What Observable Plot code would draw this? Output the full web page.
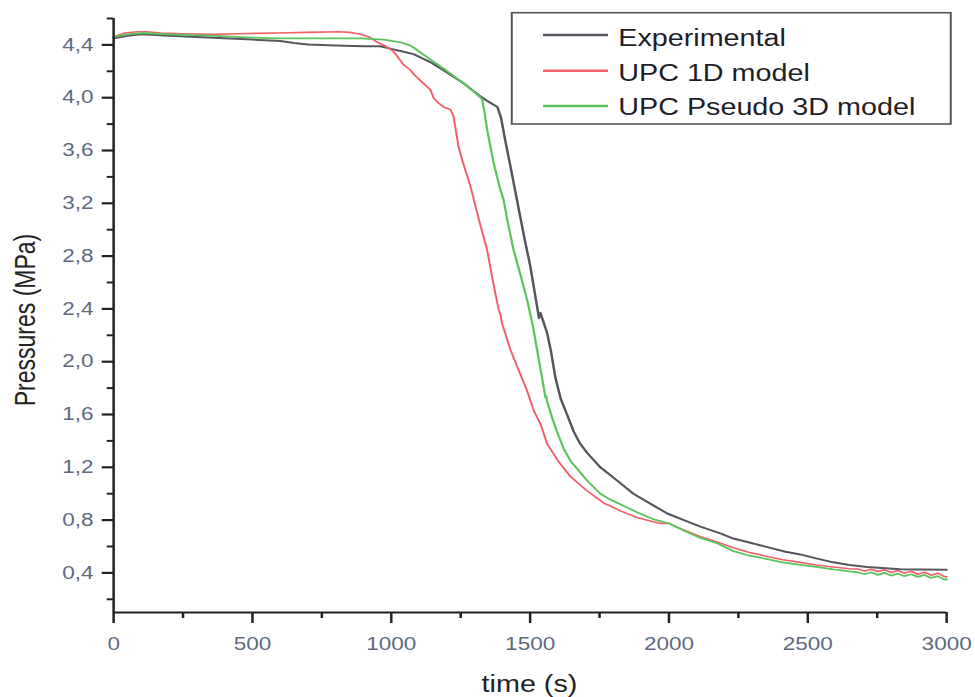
<!DOCTYPE html>
<html><head><meta charset="utf-8">
<script src="https://cdn.jsdelivr.net/npm/d3@7"></script>
<script src="https://cdn.jsdelivr.net/npm/@observablehq/plot@0.6"></script>
<style>
body{margin:0;background:#fff;}
#chart{width:975px;height:697px;overflow:hidden;}
</style></head><body><div id="chart"></div>
<script>
const seriesNames = ["Experimental", "UPC 1D model", "UPC Pseudo 3D model"];
const seriesColors = ["#55575f", "#f0606a", "#5cc45c"];

const expTime = [0,50,100,200,300,400,500,600,650,700,800,900,960,1000,1040,1080,1140,1202,1260,1321,1350,1382,1395,1410,1430,1455,1480,1500,1525,1532,1537,1545,1561,1575,1591,1610,1633,1657,1680,1705,1753,1825,1872,1945,1994,2065,2113,2185,2232,2300,2354,2420,2473,2530,2592,2650,2714,2780,2833,2900,3000];
const expPressure = [4.45,4.47,4.48,4.47,4.46,4.45,4.44,4.43,4.415,4.403,4.395,4.39,4.39,4.37,4.35,4.33,4.27,4.19,4.11,4.01,3.97,3.93,3.85,3.68,3.47,3.20,2.93,2.73,2.42,2.33,2.37,2.32,2.22,2.08,1.88,1.72,1.60,1.47,1.38,1.31,1.20,1.08,1.00,0.91,0.85,0.79,0.75,0.70,0.66,0.625,0.595,0.56,0.54,0.51,0.48,0.46,0.445,0.435,0.427,0.425,0.424];

const upc1dTime = [0,40,86,120,170,250,350,450,590,700,806,850,890,920,950,980,1008,1044,1069,1080,1110,1141,1152,1170,1188,1213,1224,1235,1242,1255,1267,1285,1297,1320,1345,1365,1386,1393,1399,1429,1460,1489,1515,1537,1561,1600,1645,1700,1765,1825,1885,1940,1969,2000,2030,2065,2113,2173,2232,2290,2354,2410,2473,2530,2592,2650,2680,2704,2728,2752,2776,2800,2824,2848,2872,2896,2920,2944,2968,2990,3000];
const upc1dPressure = [4.46,4.49,4.50,4.50,4.49,4.485,4.48,4.485,4.49,4.495,4.50,4.495,4.48,4.46,4.42,4.39,4.35,4.25,4.21,4.18,4.12,4.06,4.00,3.96,3.93,3.91,3.86,3.72,3.63,3.53,3.45,3.33,3.23,3.04,2.85,2.62,2.40,2.36,2.29,2.09,1.93,1.78,1.62,1.53,1.38,1.25,1.13,1.03,0.93,0.87,0.82,0.79,0.775,0.775,0.745,0.715,0.675,0.635,0.59,0.555,0.525,0.50,0.48,0.46,0.445,0.432,0.43,0.415,0.428,0.41,0.423,0.403,0.418,0.397,0.412,0.39,0.405,0.383,0.398,0.375,0.37];

const upc3dTime = [0,50,108,200,350,500,590,700,800,890,972,1033,1069,1080,1140,1202,1260,1300,1327,1335,1345,1368,1393,1404,1420,1440,1465,1489,1510,1525,1543,1555,1558,1561,1580,1597,1621,1645,1705,1753,1789,1840,1885,1940,1981,2000,2030,2065,2113,2173,2232,2290,2354,2410,2473,2530,2592,2650,2680,2704,2728,2752,2776,2800,2824,2848,2872,2896,2920,2944,2968,2990,3000];
const upc3dPressure = [4.46,4.48,4.49,4.48,4.47,4.455,4.45,4.45,4.45,4.45,4.44,4.42,4.395,4.38,4.29,4.20,4.11,4.04,3.99,3.90,3.76,3.51,3.30,3.23,3.05,2.85,2.66,2.47,2.27,2.09,1.88,1.73,1.74,1.70,1.57,1.47,1.34,1.25,1.10,1.00,0.955,0.905,0.86,0.81,0.785,0.775,0.745,0.71,0.665,0.625,0.565,0.53,0.505,0.48,0.46,0.445,0.426,0.412,0.405,0.39,0.405,0.385,0.40,0.38,0.395,0.375,0.39,0.37,0.385,0.362,0.375,0.352,0.35];

const xTicks = [0,500,1000,1500,2000,2500,3000];
const xMinorTicks = [250,750,1250,1750,2250,2750];
const yTicks = [0.4,0.8,1.2,1.6,2.0,2.4,2.8,3.2,3.6,4.0,4.4];
const yMinorTicks = [0.2,0.6,1.0,1.4,1.8,2.2,2.6,3.0,3.4,3.8,4.2,4.6];
const xTitle = "time (s)";
const yTitle = "Pressures (MPa)";

function toRows(name, ts, ps) { return ts.map((t, i) => ({series: name, time: t, pressure: ps[i]})); }
const expRows = toRows(seriesNames[0], expTime, expPressure);
const r1dRows = toRows(seriesNames[1], upc1dTime, upc1dPressure);
const r3dRows = toRows(seriesNames[2], upc3dTime, upc3dPressure);

// The reference is horizontally stretched; draw at 780 wide and stretch to 975.
const W = 780, H = 697;
const ML = 90.4, MR = 23.2, MT = 18, MB = 85;
const tickColor = "#5d6a7e";
const axisColor = "#222";

const chart = Plot.plot({
  width: W, height: H,
  marginLeft: ML, marginRight: MR, marginTop: MT, marginBottom: MB,
  style: {fontFamily: "'Liberation Sans', Arial, sans-serif", background: "#fff"},
  x: {domain: [0, 3000]},
  y: {domain: [0.1, 4.6]},
  color: {domain: seriesNames, range: seriesColors},
  marks: [
    Plot.axisX(xMinorTicks, {tickSize: 6, tickFormat: () => "", stroke: axisColor, strokeWidth: 2, label: null}),
    Plot.axisX(xTicks, {tickSize: 11, tickPadding: 14, fontSize: 18, fill: tickColor, stroke: axisColor, strokeWidth: 2, label: null, tickFormat: d => String(d)}),
    Plot.axisY(yMinorTicks, {tickSize: 5, tickFormat: () => "", stroke: axisColor, strokeWidth: 2, label: null}),
    Plot.axisY(yTicks, {tickSize: 9, tickPadding: 7, fontSize: 18, fill: tickColor, stroke: axisColor, strokeWidth: 2.2, label: null, tickFormat: d => d.toFixed(1).replace(".", ",")}),
    Plot.line(expRows, {x: "time", y: "pressure", stroke: "series", strokeWidth: 2}),
    Plot.line(r1dRows, {x: "time", y: "pressure", stroke: "series", strokeWidth: 1.6}),
    Plot.line(r3dRows, {x: "time", y: "pressure", stroke: "series", strokeWidth: 1.8}),
    Plot.ruleX([0], {stroke: axisColor, strokeWidth: 2}),
    Plot.ruleY([0.1], {stroke: axisColor, strokeWidth: 2})
  ]
});

const svg = d3.select(chart);
// Titles
svg.append("text")
  .attr("x", (ML + W - MR) / 2).attr("y", 692)
  .attr("text-anchor", "middle")
  .attr("font-size", 23).attr("fill", "#222")
  .text(xTitle);
svg.append("text")
  .attr("transform", "translate(28,320) rotate(-90)")
  .attr("text-anchor", "middle")
  .attr("font-size", 23).attr("fill", "#222")
  .text(yTitle);

// Legend
const lg = svg.append("g").attr("text-anchor", "start");
lg.append("rect")
  .attr("x", 409.4).attr("y", 12.7).attr("width", 351.2).attr("height", 111.3)
  .attr("fill", "#fff").attr("stroke", "#555").attr("stroke-width", 1.6);
const legendY = [35, 70.7, 106];
const legendBase = [46, 81, 115];
seriesNames.forEach((name, i) => {
  lg.append("line")
    .attr("x1", 434.4).attr("x2", 486.4).attr("y1", legendY[i]).attr("y2", legendY[i])
    .attr("stroke", seriesColors[i]).attr("stroke-width", 2.4);
  lg.append("text")
    .attr("x", 494.6).attr("y", legendBase[i])
    .attr("text-anchor", "start")
    .attr("font-size", 23).attr("fill", "#1e1e28")
    .text(name);
});

chart.setAttribute("viewBox", `0 0 ${W} ${H}`);
chart.setAttribute("width", 975);
chart.setAttribute("height", 697);
chart.setAttribute("preserveAspectRatio", "none");
chart.style.width = "975px";
chart.style.height = "697px";
chart.style.maxWidth = "none";
document.getElementById("chart").appendChild(chart);
</script>
</body></html>
